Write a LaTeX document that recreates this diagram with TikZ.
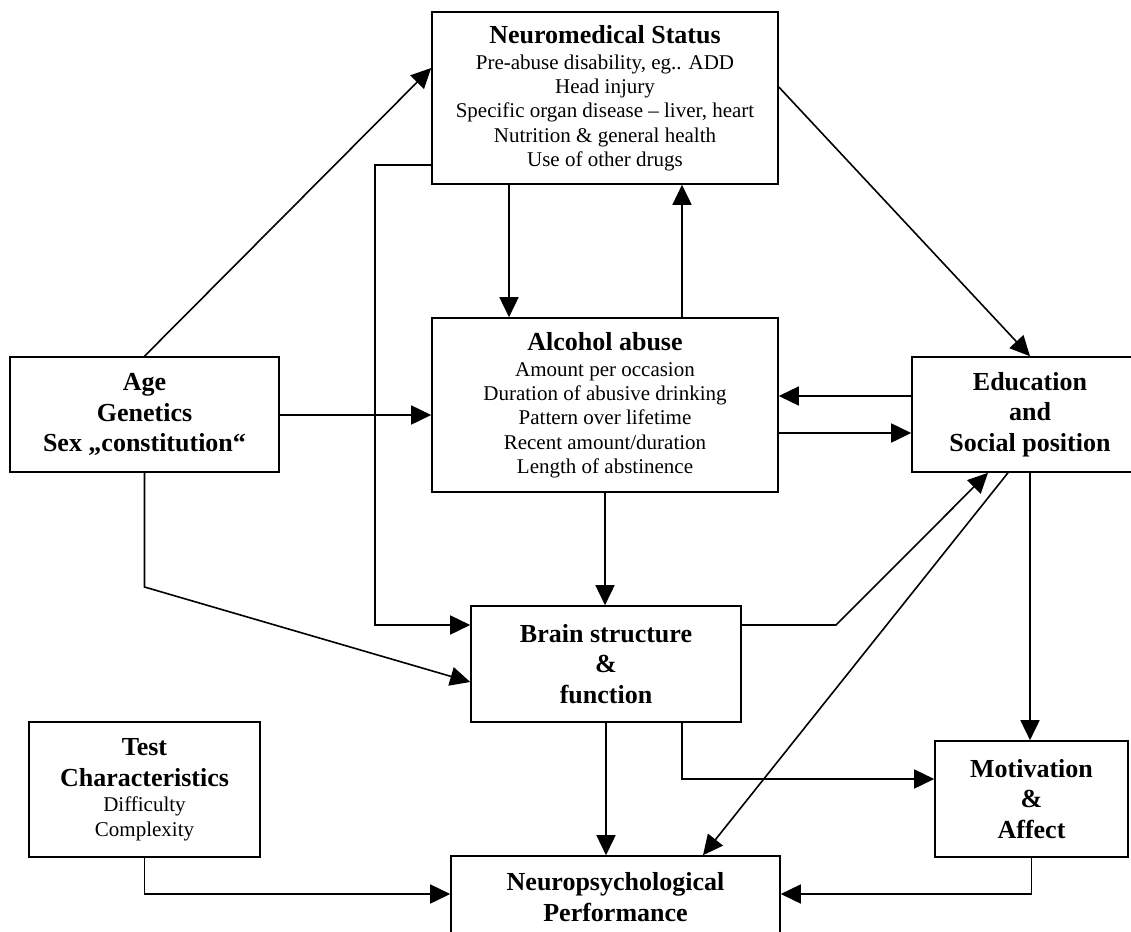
\documentclass[tikz,border=0pt]{standalone}
\usepackage{fontspec}
\setmainfont{Liberation Serif}
\usetikzlibrary{arrows.meta}
\newcommand\hd{\fontsize{26}{30}\selectfont\bfseries}
\begin{document}
\begin{tikzpicture}[x=1pt,y=-1pt,
  box/.style={draw, line width=1.6pt, inner sep=0pt, align=center, font=\fontsize{21}{24.3}\selectfont},
  bbox/.style={box, font=\fontsize{26}{30.5}\selectfont\bfseries},
  conn/.style={line width=1.6pt, -{Triangle[length=20pt,width=19pt]}}]
\useasboundingbox (0,0) rectangle (1131,931);
\fill[white] (0,0) rectangle (1131,931);

\node[box, minimum width=346pt, minimum height=172pt] (neuro) at (605,98)
  {{\hd Neuromedical Status}\\[2pt] Pre-abuse disability, eg.. ADD\\ Head injury\\ Specific organ disease – liver, heart\\ Nutrition \& general health\\ Use of other drugs};
\node[box, minimum width=346pt, minimum height=174pt] (alc) at (605,405)
  {{\hd Alcohol abuse}\\[2pt] Amount per occasion\\ Duration of abusive drinking\\ Pattern over lifetime\\ Recent amount/duration\\ Length of abstinence};
\node[bbox, minimum width=269pt, minimum height=115pt] (age) at (144.5,414.5)
  {Age\\ Genetics\\ Sex „constitution“};
\node[bbox, minimum width=236pt, minimum height=115pt] (edu) at (1030,414.5)
  {Education\\ and\\ Social position};
\node[bbox, minimum width=270pt, minimum height=116pt] (brain) at (606,664)
  {Brain structure\\ \&\\ function};
\node[box, font=\fontsize{21}{25}\selectfont, minimum width=231pt, minimum height=135pt] (test) at (144.5,789.5)
  {{\hd Test}\\[6pt]{\hd Characteristics}\\ Difficulty\\ Complexity};
\node[bbox, minimum width=193pt, minimum height=116pt] (mot) at (1031.5,799)
  {Motivation\\ \&\\ Affect};
\node[bbox, minimum width=329pt, minimum height=82pt] (np) at (615.5,897)
  {Neuropsychological\\ Performance};

\draw[conn] (age.north) -- (neuro.west |- 0,68);
\draw[conn] (neuro.south -| 509,0) -- (alc.north -| 509,0);
\draw[conn] (alc.north -| 682,0) -- (neuro.south -| 682,0);
\draw[conn] (neuro.west |- 0,165) -- (375,165) -- (375,625) -- (brain.west |- 0,625);
\draw[conn] (age.east |- 0,415) -- (alc.west |- 0,415);
\draw[conn] (edu.west |- 0,396) -- (alc.east |- 0,396);
\draw[conn] (alc.east |- 0,433) -- (edu.west |- 0,433);
\draw[conn] (neuro.east |- 0,87) -- (edu.north);
\draw[conn] (alc.south) -- (alc.south |- brain.north);
\draw[conn] (age.south) -- (age.south |- 0,587) -- (brain.west |- 0,682);
\draw[conn] (brain.east |- 0,625) -- (836,625) -- (edu.south -| 988,0);
\draw[conn] (edu.south -| 1008,0) -- (np.north -| 703,0);
\draw[conn] (edu.south) -- (edu.south |- mot.north);
\draw[conn] (brain.south -| 682,0) -- (682,779) -- (mot.west |- 0,779);
\draw[conn] (brain.south) -- (brain.south |- np.north);
\draw[conn] (test.south) -- (test.south |- 0,894) -- (np.west |- 0,894);
\draw[conn] (mot.south) -- (mot.south |- 0,894) -- (np.east |- 0,894);
\end{tikzpicture}
\end{document}
